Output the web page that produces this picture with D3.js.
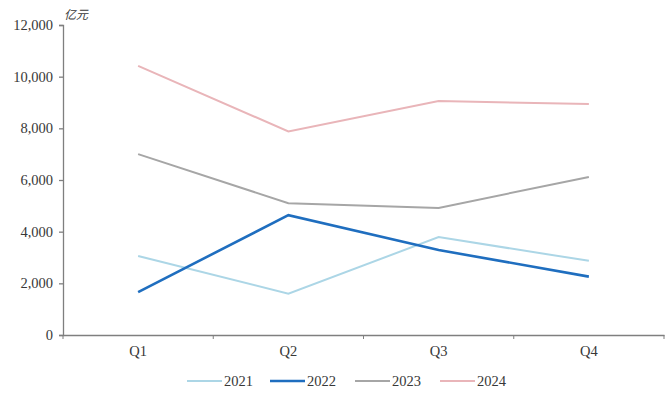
<!DOCTYPE html>
<html>
<head>
<meta charset="utf-8">
<script src="https://cdn.jsdelivr.net/npm/d3@7"></script>
<style>
  body { margin: 0; background: #fff; }
  text { font-family: "Liberation Serif", "Times New Roman", serif; fill: #383838; }
</style>
</head>
<body>
<script>
// chart data
const quarters = ["Q1", "Q2", "Q3", "Q4"];
const years = ["2021", "2022", "2023", "2024"];
const v2021 = [3060, 1600, 3790, 2870];
const v2022 = [1660, 4640, 3290, 2260];
const v2023 = [7000, 5100, 4920, 6120];
const v2024 = [10420, 7880, 9060, 8940];
const yTicks = [0, 2000, 4000, 6000, 8000, 10000, 12000];
const colors = ["#acd6e6", "#1f6ebf", "#a6a6a6", "#e9b5b9"];
const widths = [2, 2.6, 2, 2];

const width = 670;
const height = 395;
const margin = {top: 25, right: 6, bottom: 60, left: 63};

let svg = d3.select("body").append("svg")
  .attr("width", width)
  .attr("height", height);

let x = d3.scaleBand()
  .domain(quarters)
  .range([margin.left, width - margin.right]);

let y = d3.scaleLinear()
  .domain([0, 12000])
  .range([height - margin.bottom, margin.top]);

//y axis
let yAxis = svg.append("g")
  .attr("transform", "translate(" + margin.left + ",0)")
  .call(d3.axisLeft(y).tickValues(yTicks).tickSize(4).tickFormat(d3.format(",")));
yAxis.selectAll("text").style("font-size", "14.5px").attr("dx", "-3");

//x axis
let xAxis = svg.append("g")
  .attr("transform", "translate(0," + (height - margin.bottom) + ")")
  .call(d3.axisBottom(x).tickSize(0).tickPadding(11));
xAxis.selectAll("text").style("font-size", "14.5px");
//category boundary ticks
xAxis.selectAll(".bound")
  .data(d3.range(quarters.length + 1))
  .enter().append("line")
    .attr("class", "bound")
    .attr("x1", (d) => margin.left + d * x.step())
    .attr("x2", (d) => margin.left + d * x.step())
    .attr("y1", 0)
    .attr("y2", 4)
    .attr("stroke", "#7f7f7f");

svg.selectAll(".domain, .tick line")
  .attr("stroke", "#7f7f7f")
  .attr("stroke-width", 1.3);

//unit label
svg.append("text")
  .attr("x", 64)
  .attr("y", 19)
  .style("font-family", "'Noto Sans CJK SC', sans-serif")
  .style("font-size", "12px")
  .style("font-style", "italic")
  .text("亿元");

//lines
const series = [v2021, v2022, v2023, v2024];
let line = d3.line()
  .x((d, i) => x(quarters[i]) + x.bandwidth() / 2)
  .y((d) => y(d));

svg.append("g").selectAll("path")
  .data(series)
  .enter().append("path")
    .attr("fill", "none")
    .attr("stroke", (d, i) => colors[i])
    .attr("stroke-width", (d, i) => widths[i])
    .attr("d", line);

//legend
const legendX = [187, 270, 355, 440];
let legend = svg.append("g").selectAll("g")
  .data(years)
  .enter().append("g")
    .attr("transform", (d, i) => "translate(" + legendX[i] + ",381)");
legend.append("line")
  .attr("x1", 0).attr("x2", 35)
  .attr("y1", 0).attr("y2", 0)
  .attr("stroke", (d, i) => colors[i])
  .attr("stroke-width", (d, i) => widths[i]);
legend.append("text")
  .attr("x", 37)
  .attr("y", 5)
  .style("font-size", "14.5px")
  .text((d) => d);
</script>
</body>
</html>
